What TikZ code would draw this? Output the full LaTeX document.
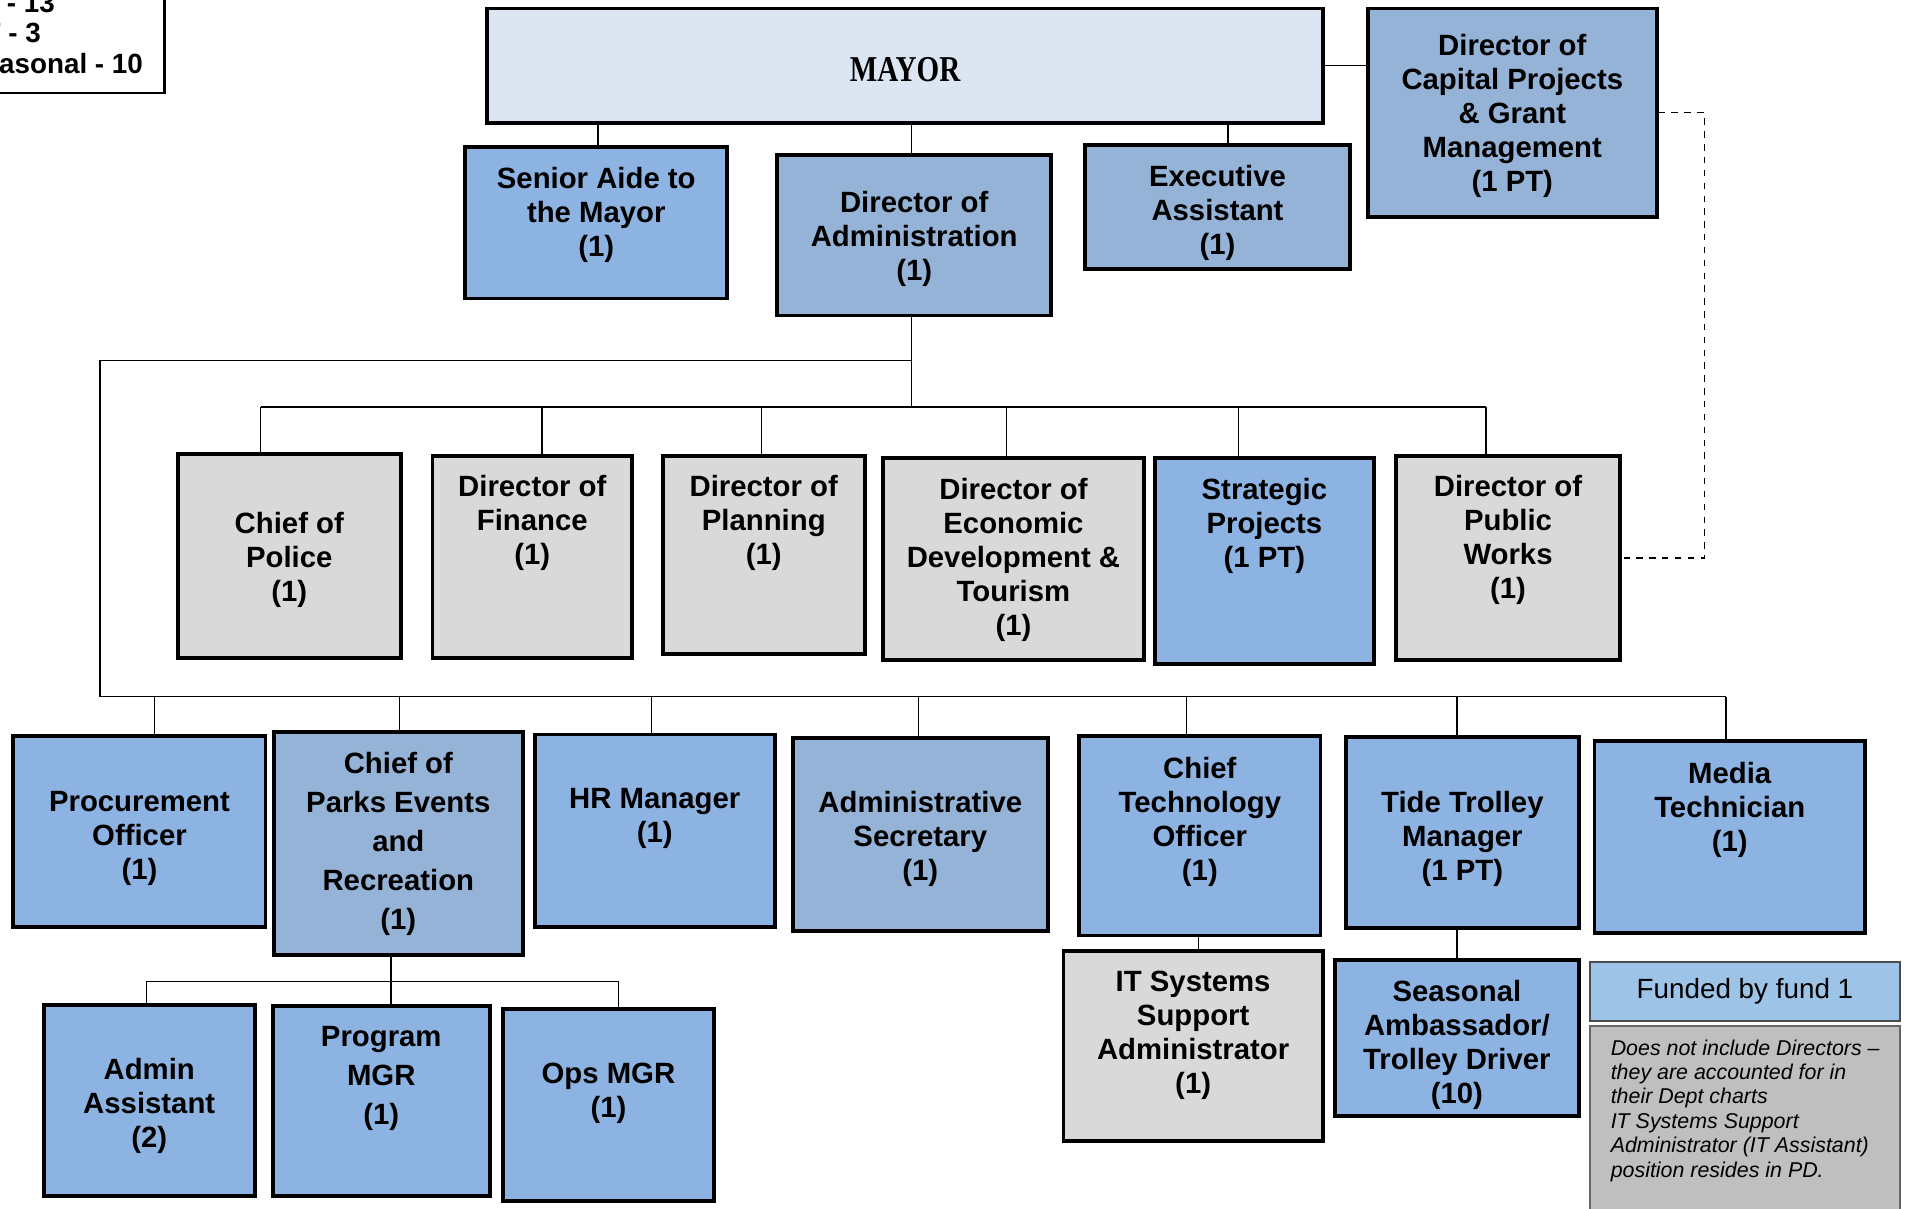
\documentclass[tikz,border=0pt]{standalone}
\usepackage{fontspec}
\setmainfont{Liberation Sans}
\newfontfamily\mayorfont{Liberation Serif}
\usepackage{tikz}
\usetikzlibrary{fit}
\definecolor{mayorfill}{HTML}{DCE6F2}
\definecolor{steelfill}{HTML}{95B3D7}
\definecolor{skyfill}{HTML}{8DB3E2}
\definecolor{grayfill}{HTML}{D9D9D9}
\definecolor{fundfill}{HTML}{9DC3E6}
\definecolor{notefill}{HTML}{BFBFBF}
\begin{document}
\begin{tikzpicture}[x=0.02cm,y=-0.02cm,
	box/.style={draw=black,line width=1.8pt,inner sep=0pt},
	boxtext/.style={anchor=north,align=center,inner sep=0pt,font=\fontsize{13.7}{15.9}\selectfont\bfseries},
	widetext/.style={boxtext,font=\fontsize{13.7}{18.2}\selectfont\bfseries},
	conn/.style={line width=0.6pt}]
	\useasboundingbox (0,0) rectangle (1568,992);
	\clip (0,0) rectangle (1568,992);
	\node (counts) [draw,line width=1pt,inner sep=0pt,fit={(-60,-30) (135,76)}] {};
	\node (counts-t) [anchor=north west,align=left,inner sep=0pt,font=\fontsize{13}{14.2}\selectfont\bfseries] at (-29,-6) {FT - 13\\PT - 3\\Seasonal - 10};
	\node (mayor) [box,fill=mayorfill,fit={(400,7) (1086,101)}] {};
	\node (mayor-t) [xscale=0.8,font=\mayorfont\bfseries\fontsize{17}{20}\selectfont] at (743,57) {MAYOR};
	\foreach \nm/\fc/\xa/\ya/\xb/\yb in {capital/steelfill/1123/7/1360/178, aide/skyfill/382/121/597/245, admin/steelfill/638/127/863/259, exec/steelfill/891/119/1108/221,
		police/grayfill/146/373/329/540, finance/grayfill/355/374/519/540, planning/grayfill/544/374/710/537, econ/grayfill/725/376/939/542, strategic/skyfill/948/376/1128/545, works/grayfill/1146/374/1330/542,
		procure/skyfill/11/604/218/761, parks/steelfill/225/601/429/784, hr/skyfill/439/603/636/761, secretary/steelfill/651/606/860/764, cto/skyfill/886/604/1084/768, trolley/skyfill/1105/605/1296/762, media/skyfill/1309/608/1531/766,
		adminasst/skyfill/36/825/209/982, program/skyfill/224/826/402/982, ops/skyfill/413/828/586/986, itsys/grayfill/873/781/1086/937, seasonal/skyfill/1096/788/1296/916}
	\node (\nm) [box,fill=\fc,fit={(\xa,\ya) (\xb,\yb)}] {};
	\node (capital-t) [boxtext] at (capital.north |- 0,28) {Director of\\Capital Projects\\\& Grant\\Management\\(1 PT)};
	\node (aide-t) [boxtext] at (aide.north |- 0,137) {Senior Aide to\\the Mayor\\(1)};
	\node (admin-t) [boxtext] at (admin.north |- 0,157) {Director of\\Administration\\(1)};
	\node (exec-t) [boxtext] at (exec.north |- 0,135) {Executive\\Assistant\\(1)};
	\node (police-t) [boxtext] at (police.north |- 0,420) {Chief of\\Police\\(1)};
	\node (finance-t) [boxtext] at (finance.north |- 0,390) {Director of\\Finance\\(1)};
	\node (planning-t) [boxtext] at (planning.north |- 0,390) {Director of\\Planning\\(1)};
	\node (econ-t) [boxtext] at (econ.north |- 0,392) {Director of\\Economic\\Development \&\\Tourism\\(1)};
	\node (strategic-t) [boxtext] at (strategic.north |- 0,392) {Strategic\\Projects\\(1 PT)};
	\node (works-t) [boxtext] at (works.north |- 0,390) {Director of\\Public\\Works\\(1)};
	\node (procure-t) [boxtext] at (procure.north |- 0,649) {Procurement\\Officer\\(1)};
	\node (parks-t) [widetext] at (parks.north |- 0,617) {Chief of\\Parks Events\\and\\Recreation\\(1)};
	\node (hr-t) [boxtext] at (hr.north |- 0,647) {HR Manager\\(1)};
	\node (secretary-t) [boxtext] at (secretary.north |- 0,649) {Administrative\\Secretary\\(1)};
	\node (cto-t) [boxtext] at (cto.north |- 0,621) {Chief\\Technology\\Officer\\(1)};
	\node (trolley-t) [boxtext] at (trolley.north |- 0,649) {Tide Trolley\\Manager\\(1 PT)};
	\node (media-t) [boxtext] at (media.north |- 0,625) {Media\\Technician\\(1)};
	\node (adminasst-t) [boxtext] at (adminasst.north |- 0,868) {Admin\\Assistant\\(2)};
	\node (program-t) [widetext] at (program.north |- 0,842) {Program\\MGR\\(1)};
	\node (ops-t) [boxtext] at (ops.north |- 0,872) {Ops MGR\\(1)};
	\node (itsys-t) [boxtext] at (itsys.north |- 0,797) {IT Systems\\Support\\Administrator\\(1)};
	\node (seasonal-t) [boxtext] at (seasonal.north |- 0,804) {Seasonal\\Ambassador/\\Trolley Driver\\(10)};
	\node (fund) [draw=black!70,line width=0.8pt,fill=fundfill,inner sep=0pt,fit={(1305,790) (1560,838)}] {};
	\node (fund-t) [font=\fontsize{13}{15}\selectfont] at (fund.center) {Funded by fund 1};
	\node (note) [draw=black!60,line width=0.8pt,fill=notefill,inner sep=0pt,fit={(1305,842) (1560,1000)}] {};
	\node (note-t) [anchor=north west,align=left,inner sep=0pt,font=\fontsize{10}{11.4}\selectfont\itshape] at (1322,853) {Does not include Directors --\\they are accounted for in\\their Dept charts\\IT Systems Support\\Administrator (IT Assistant)\\position resides in PD.};
	\foreach \nm/\x in {aide/491,admin/748,exec/1008}
	\draw[conn] (\x,0 |- mayor.south) -- (\x,0 |- \nm.north);
	\draw[conn] (mayor.east) -- (mayor.east -| capital.west);
	\coordinate (dashcorner) at (1399,458);
	\draw[conn,dashed] (capital.east) -| (dashcorner) -- (works.east);
	\coordinate (adminfoot) at (748,334);
	\coordinate (leftturn) at (82,296);
	\coordinate (staffbus) at (82,572);
	\draw[conn] (748,0 |- admin.south) -- (adminfoot);
	\draw[conn] (748,296) -- (leftturn) -- (staffbus) -- (1417,572);
	\draw[conn] (214,334) -- (1220,334);
	\foreach \nm/\x in {police/214,finance/445,planning/625,econ/826,strategic/1017,works/1220}
	\draw[conn] (\x,334) -- (\x,0 |- \nm.north);
	\foreach \nm/\x in {procure/127,parks/328,hr/535,secretary/754,cto/974,trolley/1196,media/1417}
	\draw[conn] (\x,572) -- (\x,0 |- \nm.north);
	\coordinate (parksfoot) at (321,806);
	\draw[conn] (321,0 |- parks.south) -- (parksfoot);
	\draw[conn] (120,806) -- (508,806);
	\foreach \nm/\x in {adminasst/120,program/321,ops/508}
	\draw[conn] (\x,806) -- (\x,0 |- \nm.north);
	\draw[conn] (984,0 |- cto.south) -- (984,0 |- itsys.north);
	\draw[conn] (1196,0 |- trolley.south) -- (1196,0 |- seasonal.north);
\end{tikzpicture}
\end{document}
